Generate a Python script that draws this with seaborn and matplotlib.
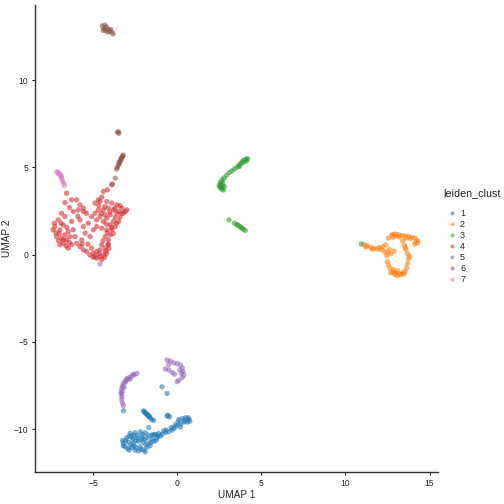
import pandas as pd
import matplotlib
matplotlib.use("Agg")
import matplotlib.pyplot as plt
import seaborn as sns

# UMAP coordinates per leiden cluster
clust1 = [(-2.0, -8.95), (-1.9, -9.05), (-1.8, -9.15), (-1.7, -9.25), (-1.6, -9.35), (-1.5, -9.45),
          (-1.4, -9.5), (-1.95, -9.0), (-1.75, -9.2), (-0.9, -7.57), (-0.6, -7.95), (-3.19, -8.95),
          (-0.6, -9.25), (-0.45, -9.3), (0.1, -9.45), (0.3, -9.4), (0.5, -9.35), (0.7, -9.45),
          (0.75, -9.55), (0.6, -9.6), (0.4, -9.6), (0.2, -9.7), (0.2, -9.87), (-0.05, -9.85),
          (-0.2, -9.96), (-0.3, -10.05), (-0.5, -10.15), (-0.7, -10.2), (-0.9, -10.3), (-1.1, -10.25),
          (-1.3, -10.3), (-2.79, -10.25), (-2.5, -10.2), (-2.19, -10.15), (-1.9, -10.2), (-1.69, -9.9),
          (-1.5, -10.35), (-1.39, -10.3), (-3.0, -10.5), (-2.7, -10.45), (-2.4, -10.5), (-2.1, -10.45),
          (-1.8, -10.5), (-1.5, -10.55), (-1.2, -10.5), (-3.2, -10.8), (-2.9, -10.75), (-2.6, -10.8),
          (-2.3, -10.7), (-2.0, -10.75), (-1.7, -10.8), (-1.4, -10.7), (-3.1, -11.0), (-2.95, -11.1),
          (-2.7, -11.05), (-2.5, -11.2), (-2.2, -11.0), (-2.0, -11.2), (-1.8, -11.05), (-1.6, -10.95),
          (-2.85, -11.2), (-2.3, -11.25), (-1.9, -11.3), (-3.25, -10.65), (-2.55, -10.95), (-1.95, -10.6),
          (-2.35, -10.35), (-1.0, -10.4), (-2.15, -11.15), (-2.65, -10.6), (-1.25, -10.65), (-0.8, -10.1),
          (-0.1, -9.75), (0.05, -9.6), (0.45, -9.5), (0.65, -9.35), (-0.35, -9.9), (-0.65, -10.05),
          (-1.15, -10.4), (-2.85, -10.4), (-3.05, -10.65), (-2.45, -10.65), (-2.15, -10.6), (-1.85, -10.9),
          (-2.75, -10.9), (-3.2, -10.95), (-1.55, -10.75), (-2.45, -11.05), (-1.65, -9.3), (-1.85, -9.1),
          (-0.55, -9.2), (-2.6, -10.35), (-1.7, -10.35), (-2.05, -10.3)]

clust2 = [(11.1, 0.58), (11.3, 0.5), (11.5, 0.42), (11.7, 0.35), (11.9, 0.32), (12.1, 0.3),
          (12.2, 0.45), (12.4, 0.55), (12.3, 0.2), (12.5, 0.1), (12.6, 0.3), (12.7, 0.05),
          (12.9, 0.2), (12.45, -0.05), (12.55, 0.94), (12.75, 1.1), (12.95, 1.18), (13.15, 1.15),
          (13.35, 1.1), (13.55, 1.08), (13.75, 1.05), (13.95, 1.0), (14.15, 0.95), (14.3, 0.8),
          (14.3, 0.65), (14.1, 0.6), (13.05, 1.05), (12.85, 1.0), (13.6, 0.95), (13.4, 0.8),
          (13.5, 0.55), (13.6, 0.3), (13.7, 0.05), (13.75, -0.25), (13.7, -0.5), (13.65, -0.75),
          (12.5, -0.4), (12.55, -0.6), (12.65, -0.8), (12.8, -0.98), (13.0, -1.08), (13.2, -1.1),
          (13.4, -1.05), (13.55, -0.95), (13.1, -0.92), (12.85, -0.85), (13.3, -1.15), (12.95, -1.15),
          (11.2, 0.45), (11.6, 0.3), (12.0, 0.4), (12.8, 1.15), (13.2, 1.02), (13.85, 0.92),
          (14.2, 0.75), (13.55, 0.4), (13.8, -0.1), (13.1, -1.2), (12.7, -1.05), (13.5, -1.1)]

clust3 = [(4.18, 5.5), (4.05, 5.45), (3.95, 5.4), (3.85, 5.3), (3.75, 5.2), (3.65, 5.1),
          (3.55, 5.0), (4.1, 5.35), (3.9, 5.25), (3.4, 4.9), (3.25, 4.8), (3.1, 4.7),
          (2.95, 4.55), (2.8, 4.4), (2.7, 4.3), (2.6, 4.2), (2.55, 4.05), (2.5, 3.95),
          (2.6, 3.85), (2.65, 3.75), (2.75, 3.7), (2.6, 4.0), (2.7, 4.1), (2.8, 3.9),
          (3.08, 1.99), (3.4, 1.8), (3.55, 1.72), (3.7, 1.62), (3.85, 1.52), (3.95, 1.45),
          (4.05, 1.38), (3.6, 1.7), (3.8, 1.55), (10.94, 0.61), (4.15, 5.45), (3.7, 5.05),
          (2.55, 3.85), (2.7, 3.95)]

clust4 = [(-4.38, 3.62), (-4.14, 3.71), (-3.88, 4.0), (-4.48, 3.3), (-4.68, 3.14),
          (-6.57, 3.52), (-6.27, 3.14), (-6.67, 2.98), (-5.97, 3.14), (-5.77, 2.85), (-5.87, 2.56),
          (-5.57, 2.47), (-6.17, 2.47), (-7.27, 1.61), (-7.37, 1.42), (-7.07, 1.99), (-6.87, 2.37),
          (-6.67, 2.18), (-6.97, 1.42), (-7.17, 1.03), (-6.87, 0.94), (-6.57, 0.84), (-6.77, 0.65),
          (-6.37, 1.03), (-6.47, 1.32), (-6.77, 1.70), (-6.27, 1.90), (-6.17, 1.42), (-6.07, 1.03),
          (-5.97, 0.65), (-6.27, 0.56), (-6.97, 0.56), (-6.47, 0.37), (-6.67, 1.13), (-7.2, 1.25),
          (-5.57, 1.61), (-5.28, 1.80), (-5.77, 1.99), (-5.47, 1.23), (-5.18, 1.03), (-5.67, 0.84),
          (-4.98, 1.42), (-4.78, 1.61), (-5.08, 2.18), (-5.38, 2.37), (-5.57, 2.66),
          (-4.88, 2.95), (-4.58, 3.04), (-4.18, 3.04), (-3.88, 2.95), (-3.58, 2.85), (-3.28, 2.66),
          (-2.99, 2.56), (-3.19, 2.37), (-3.48, 2.47), (-3.78, 2.56), (-4.08, 2.66), (-4.38, 2.56),
          (-4.68, 2.56), (-4.88, 2.37), (-4.58, 2.18), (-4.28, 2.28), (-3.98, 2.28), (-3.68, 2.14),
          (-3.39, 2.14), (-3.09, 2.47), (-3.78, 1.90), (-3.48, 1.90), (-3.98, 1.70), (-3.68, 1.61),
          (-3.88, 1.42), (-4.18, 1.42), (-3.98, 1.13), (-4.28, 1.03), (-4.08, 0.84), (-4.48, 1.51),
          (-4.38, 1.90), (-4.78, 1.99), (-4.18, 2.09), (-3.58, 2.37), (-3.8, 1.2), (-4.1, 0.6),
          (-5.77, 0.46), (-5.57, 0.27), (-5.38, 0.17), (-5.18, -0.02), (-4.88, -0.11), (-4.58, -0.11),
          (-4.38, -0.02), (-4.18, 0.08), (-4.28, 0.37), (-4.58, 0.27), (-4.78, 0.17), (-4.98, 0.08),
          (-4.48, 0.56), (-4.08, 0.56), (-5.08, 0.37), (-4.78, -0.21), (-4.48, -0.27), (-4.3, -0.15),
          (-6.6, 0.5), (-7.05, 0.8), (-5.9, 2.2), (-6.4, 2.7), (-4.4, 0.8), (-5.3, 0.6),
          (-7.3, 1.8), (-7.0, 1.2), (-6.9, 1.8), (-6.55, 1.55), (-6.75, 0.85), (-6.4, 0.7),
          (-4.3, 2.75), (-3.7, 2.65), (-3.3, 2.35), (-3.6, 1.8), (-4.0, 2.45), (-4.5, 2.35),
          (-3.9, 1.55), (-4.2, 1.75), (-4.15, 1.25), (-4.65, 0.05), (-5.0, -0.15), (-4.25, 0.2),
          (-5.65, 0.6), (-4.05, 0.35), (-3.4, 2.8), (-4.65, 2.8)]

clust5 = [(-2.39, -6.81), (-2.55, -6.9), (-2.7, -6.95), (-2.85, -7.05), (-3.0, -7.15), (-3.1, -7.25),
          (-3.2, -7.4), (-3.25, -7.55), (-3.3, -7.7), (-3.25, -7.85), (-3.3, -8.0), (-3.28, -8.15),
          (-3.3, -8.3), (-3.25, -8.5), (-3.2, -8.65), (-2.95, -7.1), (-2.6, -6.85), (-3.15, -7.6),
          (-3.35, -7.9), (-0.6, -6.04), (-0.4, -6.1), (-0.2, -6.2), (0.0, -6.25), (0.2, -6.33),
          (0.3, -6.5), (0.35, -6.7), (0.4, -6.9), (0.3, -7.05), (0.1, -7.2), (0.0, -7.28),
          (-0.5, -6.3), (-0.7, -6.55), (-0.5, -6.6), (-0.3, -6.75), (-0.15, -6.85), (0.15, -6.6),
          (-4.58, -0.53), (-3.05, -7.3), (-2.8, -7.15), (0.25, -6.8)]

clust6 = [(-4.45, 13.1), (-4.3, 13.15), (-4.2, 13.05), (-4.35, 12.95), (-4.25, 12.85), (-4.1, 12.9),
          (-4.0, 12.8), (-3.9, 12.75), (-3.8, 12.65), (-4.4, 12.85), (-4.15, 12.75), (-3.95, 12.9),
          (-3.5, 7.05), (-3.45, 6.95), (-3.55, 7.0), (-3.2, 5.7), (-3.25, 5.6), (-3.3, 5.5),
          (-3.35, 5.4), (-3.4, 5.3), (-3.45, 5.2), (-3.5, 5.1), (-3.55, 5.0), (-3.6, 4.9),
          (-3.25, 5.65), (-3.35, 5.5), (-3.45, 5.3), (-3.68, 4.38), (-3.85, 4.05)]

clust7 = [(-7.15, 4.75), (-7.05, 4.7), (-6.95, 4.6), (-6.9, 4.45), (-6.85, 4.35), (-6.8, 4.2),
          (-6.75, 4.1), (-6.7, 3.95), (-7.1, 4.65), (-6.88, 4.5)]

clusters = ["1", "2", "3", "4", "5", "6", "7"]
point_lists = [clust1, clust2, clust3, clust4, clust5, clust6, clust7]

rows = []
for lab, pts in zip(clusters, point_lists):
    for x, y in pts:
        rows.append((x, y, lab))
df = pd.DataFrame(rows, columns=["UMAP 1", "UMAP 2", "leiden_clust"])

sns.set_style("ticks")
plt.rcParams["font.family"] = ["Liberation Sans", "DejaVu Sans"]

fig = plt.figure(figsize=(7, 7), dpi=72)
ax = fig.add_axes([0.069, 0.063, 0.80, 0.927])
palette = sns.color_palette("tab10", 7)
sns.scatterplot(data=df, x="UMAP 1", y="UMAP 2", hue="leiden_clust", hue_order=clusters,
                palette=palette, alpha=0.58, s=28, linewidth=0, ax=ax)

ax.set_xlim(-8.46, 15.5)
ax.set_ylim(-12.47, 14.3)
ax.set_xticks([-5, 0, 5, 10, 15])
ax.set_yticks([-10, -5, 0, 5, 10])
sns.despine(ax=ax)
for s in ["left", "bottom"]:
    ax.spines[s].set_color("#333333")
    ax.spines[s].set_linewidth(1.4)
ax.tick_params(labelsize=8.5, colors="#222222", length=3, width=1)
ax.set_xlabel("UMAP 1", fontsize=10, color="#222222", labelpad=2)
ax.set_ylabel("UMAP 2", fontsize=10, color="#222222", labelpad=2)

# legend entries, title drawn separately so it can sit further above them
leg = ax.legend(loc="upper left", bbox_to_anchor=(0.878, 0.592),
                bbox_transform=fig.transFigure, frameon=False, fontsize=9,
                markerscale=0.75, labelspacing=0.22, handletextpad=0.35, borderaxespad=0,
                handlelength=1.2)
fig.text(0.879, 0.617, "leiden_clust", fontsize=10.8, color="#222222", ha="left", va="center")

fig.savefig("out.png", dpi=72)
